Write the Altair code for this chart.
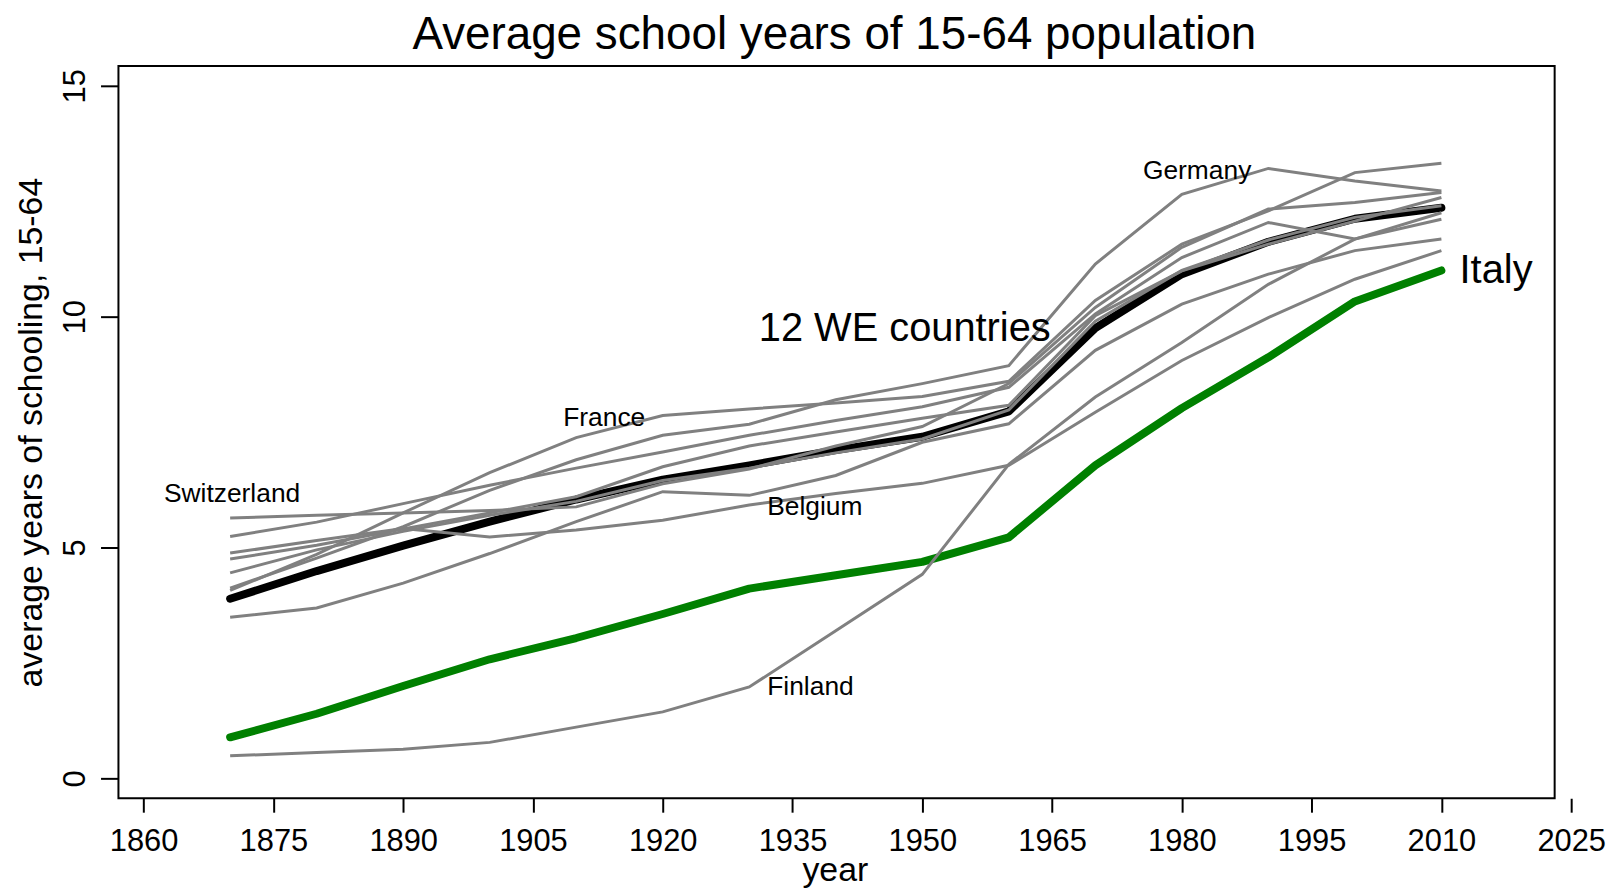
import altair as alt
import pandas as pd

FONT = "Liberation Sans"

chart_title = ["Average school years of 15-64 population"]

years = [1870, 1880, 1890, 1900, 1910, 1920, 1930, 1940, 1950, 1960, 1970, 1980, 1990, 2000, 2010]

italy = [0.89, 1.40, 2.00, 2.58, 3.04, 3.56, 4.11, 4.40, 4.69, 5.22, 6.78, 8.02, 9.12, 10.33, 11.00]
we_average = [3.89, 4.49, 5.04, 5.56, 6.04, 6.47, 6.78, 7.11, 7.40, 7.95, 9.75, 10.92, 11.62, 12.12, 12.36]

france = [4.07, 4.85, 5.75, 6.62, 7.38, 7.86, 8.00, 8.13, 8.27, 8.60, 10.35, 11.57, 12.29, 13.12, 13.32]
germany = [4.12, 4.77, 5.45, 6.24, 6.90, 7.43, 7.67, 8.20, 8.55, 8.94, 11.14, 12.65, 13.21, 12.94, 12.72]
switzerland = [5.64, 5.70, 5.75, 5.80, 5.88, 6.38, 6.70, 7.20, 7.62, 8.55, 10.20, 11.50, 12.33, 12.47, 12.69]
country_a = [5.24, 5.55, 5.95, 6.35, 6.72, 7.07, 7.43, 7.75, 8.05, 8.47, 10.06, 11.28, 12.04, 11.68, 12.11]
country_b = [4.75, 5.05, 5.40, 5.75, 6.10, 6.75, 7.20, 7.50, 7.80, 8.08, 10.02, 10.99, 11.57, 12.07, 12.58]
country_c = [4.45, 4.95, 5.35, 5.70, 6.00, 6.45, 6.72, 7.05, 7.35, 7.98, 9.90, 11.00, 11.66, 12.15, 12.40]
country_d = [3.49, 3.69, 4.23, 4.87, 5.56, 6.21, 6.13, 6.56, 7.28, 7.68, 9.27, 10.27, 10.92, 11.43, 11.68]
belgium = [4.88, 5.15, 5.41, 5.23, 5.38, 5.59, 5.92, 6.17, 6.39, 6.78, 7.93, 9.05, 9.98, 10.81, 11.43]
finland = [0.49, 0.56, 0.63, 0.78, 1.11, 1.44, 1.98, 3.20, 4.42, 6.80, 8.26, 9.44, 10.70, 11.68, 12.25]

gray_series = {
    "France": france, "Germany": germany, "Switzerland": switzerland,
    "Country A": country_a, "Country B": country_b, "Country C": country_c,
    "Country D": country_d, "Belgium": belgium, "Finland": finland,
}

# annotation labels (data coordinates)
small_labels = ["Switzerland", "France", "Belgium", "Finland", "Germany"]
small_x = [1862.35, 1908.5, 1932.08, 1932.08, 1975.5]
small_y = [6.15, 7.81, 5.88, 1.98, 13.16]
big_labels = ["12 WE countries", "Italy"]
big_x = [1931.1, 2012.1]
big_y = [9.73, 10.98]

x_ticks = [1860, 1875, 1890, 1905, 1920, 1935, 1950, 1965, 1980, 1995, 2010, 2025]
y_ticks = [0, 5, 10, 15]
x_domain = [1857.09, 2025]
frame_right_year = 2023.09
y_domain = [-0.43, 15.43]

W = 1460
H = 736
frame_w = (frame_right_year - x_domain[0]) / (x_domain[1] - x_domain[0]) * W

rows = []
for name, vals in gray_series.items():
    for yr, v in zip(years, vals):
        rows.append({"country": name, "year": yr, "value": v})
gray_df = pd.DataFrame(rows)
avg_df = pd.DataFrame({"year": years, "value": we_average})
ita_df = pd.DataFrame({"year": years, "value": italy})
small_df = pd.DataFrame({"label": small_labels, "year": small_x, "value": small_y})
big_df = pd.DataFrame({"label": big_labels, "year": big_x, "value": big_y})
title_df = pd.DataFrame({"t": chart_title})

xs = alt.Scale(domain=x_domain, nice=False, zero=False)
ys = alt.Scale(domain=y_domain, nice=False, zero=False)

x_axis = alt.Axis(
    values=x_ticks, format="d", title="year", domain=False, grid=False,
    tickSize=14, tickWidth=2, tickColor="black",
    labelFontSize=31, labelFont=FONT, labelColor="black", labelPadding=15,
    labelFlush=False, labelOverlap=False,
    titleFontSize=34, titleFont=FONT, titleFontWeight="normal", titleColor="black",
    titleX=720, titleY=83, titleBaseline="alphabetic", titleAlign="center",
)
y_axis = alt.Axis(
    values=y_ticks, title="average years of schooling, 15-64", domain=False, grid=False,
    tickSize=18, tickWidth=2, tickColor="black",
    labelFontSize=31, labelFont=FONT, labelColor="black", labelPadding=16,
    labelAngle=270, labelAlign="center", labelBaseline="alphabetic",
    labelFlush=False, labelOverlap=False,
    titleFontSize=34, titleFont=FONT, titleFontWeight="normal", titleColor="black",
    titleAngle=270, titleX=-77, titleY=H / 2, titleBaseline="alphabetic", titleAlign="center",
)

avg_line = alt.Chart(avg_df).mark_line(color="black", strokeWidth=8, strokeCap="round", strokeJoin="round").encode(
    x=alt.X("year:Q", scale=xs, axis=x_axis),
    y=alt.Y("value:Q", scale=ys, axis=y_axis),
)
ita_line = alt.Chart(ita_df).mark_line(color="#008000", strokeWidth=8, strokeCap="round", strokeJoin="round").encode(
    x=alt.X("year:Q", scale=xs), y=alt.Y("value:Q", scale=ys),
)
gray_lines = alt.Chart(gray_df).mark_line(color="#808080", strokeWidth=3, strokeJoin="miter").encode(
    x=alt.X("year:Q", scale=xs), y=alt.Y("value:Q", scale=ys), detail="country:N",
)
small_text = alt.Chart(small_df).mark_text(align="left", baseline="middle", fontSize=26.5, font=FONT, color="black").encode(
    x=alt.X("year:Q", scale=xs), y=alt.Y("value:Q", scale=ys), text="label:N",
)
big_text = alt.Chart(big_df).mark_text(align="left", baseline="middle", fontSize=40, font=FONT, color="black").encode(
    x=alt.X("year:Q", scale=xs), y=alt.Y("value:Q", scale=ys), text="label:N",
)
title_text = alt.Chart(title_df).mark_text(align="center", baseline="alphabetic", fontSize=46, font=FONT, color="black").encode(
    x=alt.value(719.5), y=alt.value(-17), text="t:N",
)
frame = alt.Chart(pd.DataFrame({"f": [0]})).mark_rect(fillOpacity=0, stroke="black", strokeWidth=2).encode(
    x=alt.value(0), x2=alt.value(frame_w), y=alt.value(0), y2=alt.value(H),
)

chart = alt.layer(avg_line, ita_line, gray_lines, small_text, big_text, title_text, frame).properties(
    width=W, height=H,
    autosize=alt.AutoSizeParams(type="none"),
    padding={"left": 111, "top": 56, "right": 35, "bottom": 91},
    background="white",
).configure_view(stroke=None)

chart.save("out.html", embed_options={"renderer": "svg", "actions": False})
